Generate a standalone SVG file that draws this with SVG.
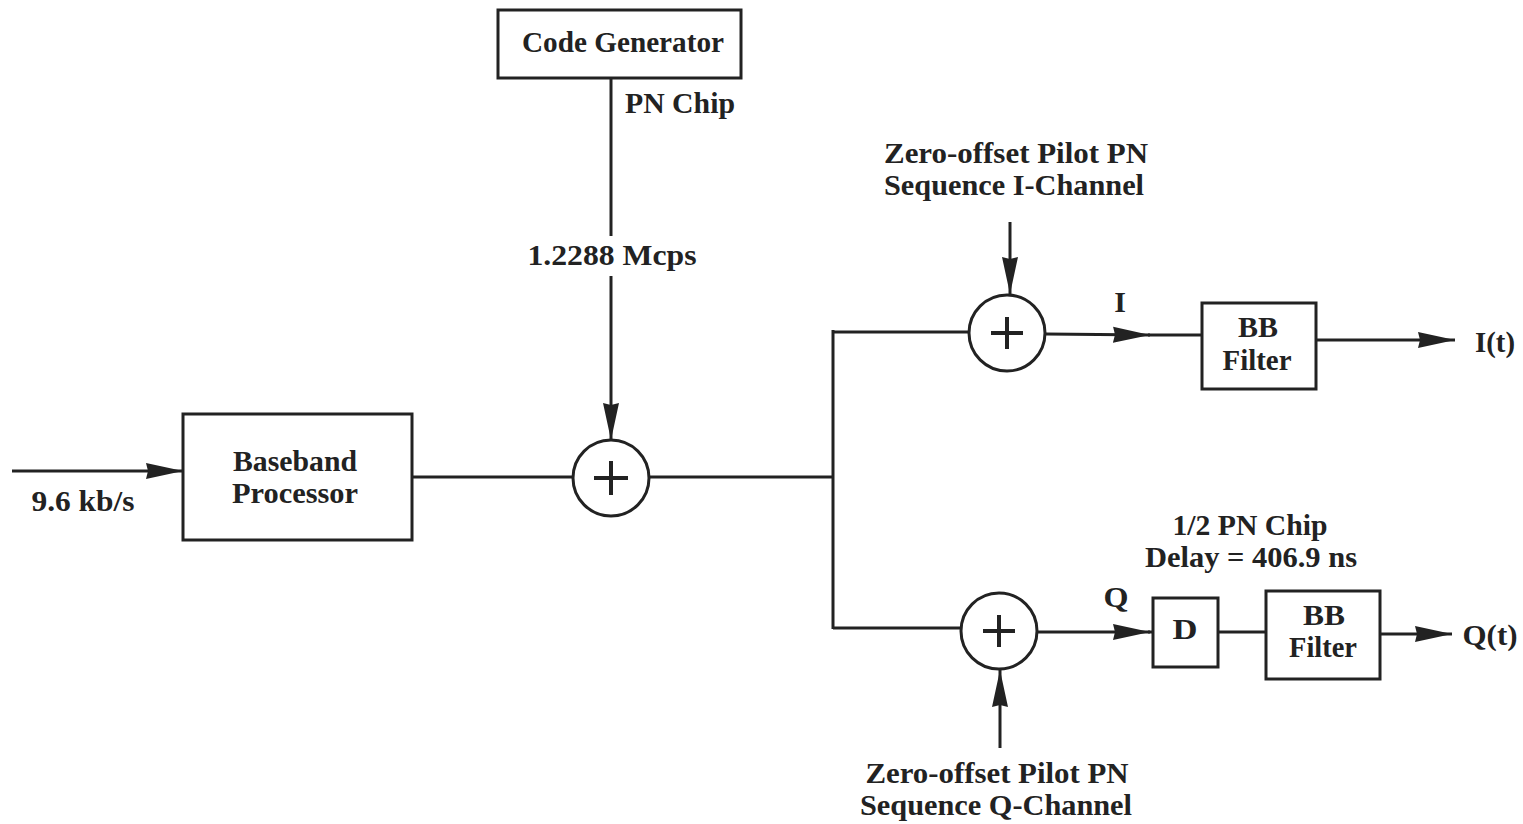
<svg xmlns="http://www.w3.org/2000/svg" width="1523" height="824" viewBox="0 0 1523 824">
<defs>
<style>
.box{fill:#fff;stroke:#222;stroke-width:3}
.sum{fill:#fff;stroke:#222;stroke-width:3}
.plus{stroke:#222;stroke-width:4;fill:none}
.ln{stroke:#222;stroke-width:3;fill:none}
.t{font-family:"Liberation Serif","Times New Roman",serif;font-size:30px;font-weight:bold;fill:#222;text-anchor:middle}
</style>
<marker id="ah" markerUnits="userSpaceOnUse" markerWidth="38" markerHeight="18" refX="37" refY="9" orient="auto" viewBox="0 0 38 18">
<path d="M0,1 L37,9 L0,17 L2,9 Z" fill="#222"/>
</marker>
</defs>
<rect width="1523" height="824" fill="#fff"/>
<g id="connectors">
<line class="ln" x1="12" y1="471" x2="183" y2="471" marker-end="url(#ah)"/>
<line class="ln" x1="611" y1="78" x2="611" y2="236"/>
<line class="ln" x1="611" y1="276" x2="611" y2="440" marker-end="url(#ah)"/>
<line class="ln" x1="412" y1="477" x2="573" y2="477"/>
<line class="ln" x1="649" y1="477" x2="833" y2="477"/>
<line class="ln" x1="833" y1="330" x2="833" y2="629"/>
<line class="ln" x1="833" y1="332" x2="969" y2="332"/>
<line class="ln" x1="1010" y1="222" x2="1010" y2="294" marker-end="url(#ah)"/>
<line class="ln" x1="1046" y1="334" x2="1150" y2="335" marker-end="url(#ah)"/>
<line class="ln" x1="1148" y1="335" x2="1202" y2="335"/>
<line class="ln" x1="1316" y1="340" x2="1455" y2="340" marker-end="url(#ah)"/>
<line class="ln" x1="833" y1="628" x2="961" y2="628"/>
<line class="ln" x1="1037" y1="632" x2="1150" y2="632" marker-end="url(#ah)"/>
<line class="ln" x1="1148" y1="632" x2="1153" y2="632"/>
<line class="ln" x1="1218" y1="632" x2="1266" y2="632"/>
<line class="ln" x1="1380" y1="634" x2="1452" y2="634" marker-end="url(#ah)"/>
<line class="ln" x1="1000" y1="748" x2="1000" y2="670" marker-end="url(#ah)"/>
</g>
<g id="code-generator">
<rect class="box" x="498" y="10" width="243" height="68"/>
<text class="t" x="623" y="52" font-size="33" textLength="202" lengthAdjust="spacingAndGlyphs">Code Generator</text>
</g>
<g id="labels-top">
<text class="t" x="680" y="113" textLength="110" lengthAdjust="spacingAndGlyphs">PN Chip</text>
<text class="t" x="612" y="265" textLength="169" lengthAdjust="spacingAndGlyphs">1.2288 Mcps</text>
<text class="t" x="83" y="511" textLength="103" lengthAdjust="spacingAndGlyphs">9.6 kb/s</text>
</g>
<g id="baseband-processor">
<rect class="box" x="183" y="414" width="229" height="126"/>
<text class="t" x="295" y="471" textLength="124" lengthAdjust="spacingAndGlyphs">Baseband</text>
<text class="t" x="295" y="503" textLength="126" lengthAdjust="spacingAndGlyphs">Processor</text>
</g>
<g id="sum1">
<circle class="sum" cx="611" cy="478" r="38"/>
<path class="plus" d="M594,478 H628 M611,461 V495"/>
</g>
<g id="pilot-i-label">
<text class="t" x="1016" y="163" textLength="264" lengthAdjust="spacingAndGlyphs">Zero-offset Pilot PN</text>
<text class="t" x="1014" y="195" textLength="260" lengthAdjust="spacingAndGlyphs">Sequence I-Channel</text>
</g>
<g id="sum-i">
<circle class="sum" cx="1007" cy="333" r="38"/>
<path class="plus" d="M991,333 H1023 M1007,317 V349"/>
</g>
<g id="label-i">
<text class="t" x="1120" y="312">I</text>
</g>
<g id="bb-filter-i">
<rect class="box" x="1202" y="303" width="114" height="86"/>
<text class="t" x="1258" y="337" textLength="40" lengthAdjust="spacingAndGlyphs">BB</text>
<text class="t" x="1257" y="370" textLength="69" lengthAdjust="spacingAndGlyphs">Filter</text>
</g>
<g id="out-i">
<text class="t" x="1495" y="352" textLength="40" lengthAdjust="spacingAndGlyphs">I(t)</text>
</g>
<g id="delay-label">
<text class="t" x="1250" y="535" textLength="155" lengthAdjust="spacingAndGlyphs">1/2 PN Chip</text>
<text class="t" x="1251" y="567" textLength="212" lengthAdjust="spacingAndGlyphs">Delay = 406.9 ns</text>
</g>
<g id="sum-q">
<circle class="sum" cx="999" cy="631" r="38"/>
<path class="plus" d="M983,631 H1015 M999,615 V647"/>
</g>
<g id="label-q">
<text class="t" x="1116" y="607" textLength="25" lengthAdjust="spacingAndGlyphs">Q</text>
</g>
<g id="delay-d">
<rect class="box" x="1153" y="598" width="65" height="69"/>
<text class="t" x="1185" y="639" textLength="25" lengthAdjust="spacingAndGlyphs">D</text>
</g>
<g id="bb-filter-q">
<rect class="box" x="1266" y="591" width="114" height="88"/>
<text class="t" x="1324" y="625" textLength="42" lengthAdjust="spacingAndGlyphs">BB</text>
<text class="t" x="1323" y="657" textLength="68" lengthAdjust="spacingAndGlyphs">Filter</text>
</g>
<g id="out-q">
<text class="t" x="1490" y="645" textLength="55" lengthAdjust="spacingAndGlyphs">Q(t)</text>
</g>
<g id="pilot-q-label">
<text class="t" x="997" y="783" textLength="263" lengthAdjust="spacingAndGlyphs">Zero-offset Pilot PN</text>
<text class="t" x="996" y="815" textLength="272" lengthAdjust="spacingAndGlyphs">Sequence Q-Channel</text>
</g>
</svg>
